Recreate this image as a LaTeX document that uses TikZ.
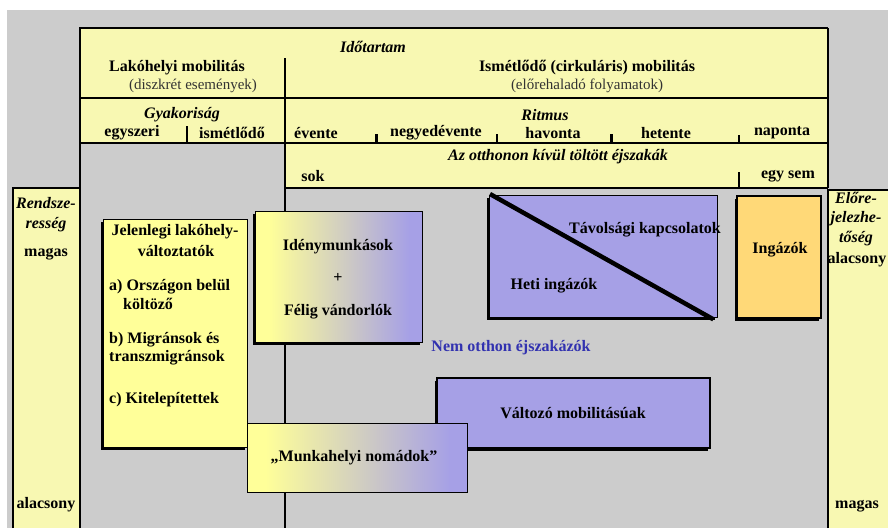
\documentclass[tikz,border=0pt]{standalone}
\usepackage{fontspec}
\setmainfont{Liberation Serif}
\usetikzlibrary{shadows}
\definecolor{bg}{HTML}{CCCCCC}
\definecolor{hdryel}{HTML}{F8F8B2}
\definecolor{boxyel}{HTML}{FFFF99}
\definecolor{lila}{HTML}{A6A0E6}
\definecolor{narancs}{HTML}{FFD978}
\definecolor{kek}{HTML}{3232B0}
\pgfdeclarehorizontalshading{sarga2lila}{100bp}{color(0bp)=(boxyel); color(29bp)=(boxyel); color(71bp)=(lila); color(100bp)=(lila)}
\tikzset{
  lbl/.style={font=\fontsize{16}{18}\selectfont\bfseries, inner sep=0pt},
  dlbl/.style={font=\fontsize{16}{18}\selectfont\bfseries\itshape, inner sep=0pt},
  sub/.style={font=\fontsize{15}{17}\selectfont, inner sep=0pt, text=black!80},
  box/.style={draw, line width=1.3pt, rectangle, anchor=north west, inner sep=0pt,
    drop shadow={shadow xshift=-2.5pt, shadow yshift=-2.5pt, fill=black, opacity=1}},
  tick/.style={line width=1.2pt},
  vastag/.style={line width=2.6pt}
}
\begin{document}
\begin{tikzpicture}[x=1pt,y=-1pt]
\useasboundingbox (0,0) rectangle (888,528);
\fill[bg] (7,10) rectangle (888,528);
\fill[hdryel] (80,28) rectangle (828,143);
\fill[hdryel] (285,143) rectangle (828,188);
\fill[hdryel] (13,188) rectangle (80,528);
\fill[hdryel] (828,190) rectangle (888,528);

\draw[vastag] (80,28) -- (828,28);
\draw[vastag] (80,98) -- (828,98);
\draw[vastag] (80,27) -- (80,143);
\draw[tick] (80,143) -- (828,143);
\draw[tick] (80,143) -- (80,528);
\draw[tick] (828,28) -- (828,188);
\draw[tick] (285,58) -- (285,528);
\draw[tick] (285,188) -- (828,188);
\draw[tick] (187,126) -- (187,143);
\draw[line width=3pt] (376,134) -- (376,143);
\draw[tick] (497,134) -- (497,143);
\draw[line width=3pt] (611,134) -- (611,143);
\draw[tick] (739,135) -- (739,143);
\draw[tick] (739,172) -- (739,188);
\draw[tick] (13,528) -- (13,188) -- (80,188);
\draw[tick] (828,528) -- (828,190) -- (888,190);

\node (1) [box, fill=boxyel, minimum width=144pt, minimum height=228pt] at (103,219) {};
\node (2) [box, shading=sarga2lila, minimum width=167pt, minimum height=131pt] at (255,211) {};
\node (3) [box, fill=lila, minimum width=228pt, minimum height=122pt] at (489,195) {};
\node (4) [box, fill=narancs, line width=2pt, minimum width=84pt, minimum height=122pt] at (736,195) {};
\node (5) [box, fill=lila, line width=2.2pt, minimum width=273pt, minimum height=70pt] at (436,377) {};
\node (6) [draw, line width=1pt, rectangle, anchor=north west, inner sep=0pt, shading=sarga2lila,
  minimum width=220pt, minimum height=69pt] at (247,423) {};
\draw[line width=4.5pt] ([shift={(1pt,1pt)}]3.north west) -- ([shift={(-5pt,-1pt)}]3.south east);

\node (7) [dlbl] at (373,47) {Időtartam};
\node (8) [lbl] at (177,68) {Lakóhelyi mobilitás};
\node (9) [sub] at (193,86) {(diszkrét események)};
\node (10) [lbl] at (587,68) {Ismétlődő (cirkuláris) mobilitás};
\node (11) [sub] at (587,86) {(előrehaladó folyamatok)};
\node (12) [dlbl] at (182,115) {Gyakoriság};
\node (13) [lbl] at (132,133) {egyszeri};
\node (14) [lbl] at (232,133) {ismétlődő};
\node (15) [dlbl] at (545,115) {Ritmus};
\node (16) [lbl] at (316,133) {évente};
\node (17) [lbl] at (436,133) {negyedévente};
\node (18) [lbl] at (553,133) {havonta};
\node (19) [lbl] at (666,133) {hetente};
\node (20) [lbl] at (782,133) {naponta};
\node (21) [dlbl] at (558,157) {Az otthonon kívül töltött éjszakák};
\node (22) [lbl] at (313,176) {sok};
\node (23) [lbl] at (788,176) {egy sem};

\node (24) [dlbl] at (46,203) {Rendsze-};
\node (25) [dlbl] at (46,225) {resség};
\node (26) [lbl] at (46,254) {magas};
\node (27) [lbl] at (46,505) {alacsony};
\node (28) [dlbl] at (856,198) {Előre-};
\node (29) [dlbl] at (856,219) {jelezhe-};
\node (30) [dlbl] at (856,239) {tőség};
\node (31) [lbl] at (857,260) {alacsony};
\node (32) [lbl] at (857,506) {magas};

\node (33) [lbl] at (175,232) {Jelenlegi lakóhely-};
\node (34) [lbl] at (176,251) {változtatók};
\node (35) [lbl, anchor=west] at (109,287) {a) Országon belül};
\node (36) [lbl, anchor=west] at (123,304) {költöző};
\node (37) [lbl, anchor=west] at (109,340) {b) Migránsok és};
\node (38) [lbl, anchor=west] at (109,358) {transzmigránsok};
\node (39) [lbl, anchor=west] at (109,400) {c) Kitelepítettek};

\node (40) [lbl] at (338,247) {Idénymunkások};
\node (41) [lbl] at (338,278) {+};
\node (42) [lbl] at (338,312) {Félig vándorlók};
\node (43) [lbl] at (645,230) {Távolsági kapcsolatok};
\node (44) [lbl] at (554,286) {Heti ingázók};
\node (45) [lbl] at (780,250) {Ingázók};
\node (46) [lbl, text=kek] at (511,348) {Nem otthon éjszakázók};
\node (47) [lbl] at (573,413) {Változó mobilitásúak};
\node (48) [lbl] at (354,458) {„Munkahelyi nomádok”};
\end{tikzpicture}
\end{document}
